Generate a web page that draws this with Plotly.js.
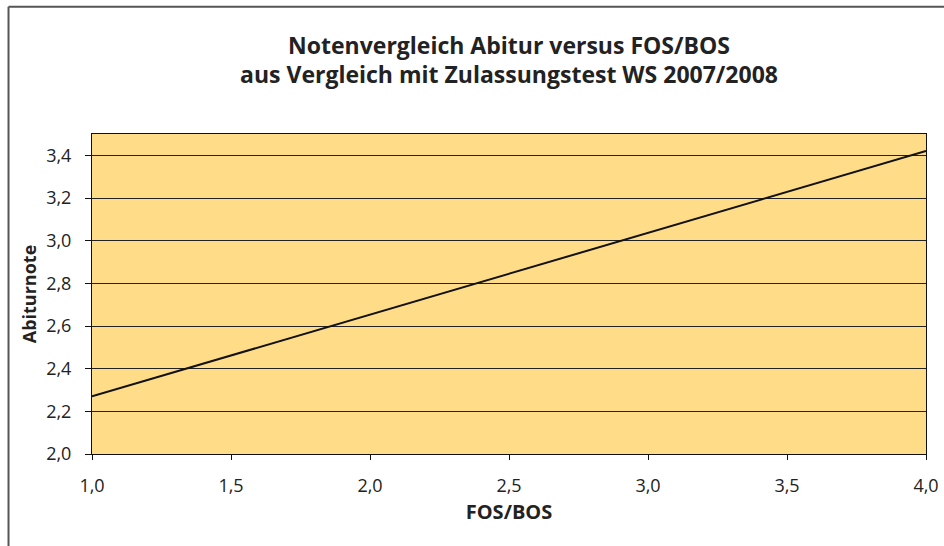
<!DOCTYPE html>
<html>
<head>
<meta charset="utf-8">
<script src="https://cdn.plot.ly/plotly-3.0.1.min.js"></script>
<style>html,body{margin:0;padding:0;background:#fff;}#chart{width:944px;height:546px;}</style>
</head>
<body>
<div id="chart"></div>
<script>
const fosBos = [1.0, 4.0];
const abiturnote = [2.27, 3.42];
const xTicks = [1.0, 1.5, 2.0, 2.5, 3.0, 3.5, 4.0];
const yTicks = [2.0, 2.2, 2.4, 2.6, 2.8, 3.0, 3.2, 3.4];

const FONT = '"Open Sans", "Noto Sans", sans-serif';

const trace = {
  x: fosBos,
  y: abiturnote,
  type: 'scatter',
  mode: 'lines',
  line: {color: '#111111', width: 2},
  hoverinfo: 'x+y'
};

const layout = {
  width: 944,
  height: 546,
  separators: ',.',
  paper_bgcolor: '#ffffff',
  plot_bgcolor: '#FFDC87',
  margin: {l: 92, r: 18, t: 134, b: 92},
  showlegend: false,
  font: {family: FONT, color: '#222222', size: 17},
  title: {
    text: '<b>Notenvergleich Abitur versus FOS/BOS<br>aus Vergleich mit Zulassungstest WS 2007/2008</b>',
    font: {family: FONT, size: 23, color: '#222222'},
    x: 0.5, xref: 'paper', xanchor: 'center',
    y: 0.902, yref: 'container', yanchor: 'top'
  },
  xaxis: {
    range: [1.0, 4.0],
    tickvals: xTicks,
    tickformat: '.1f',
    showgrid: false,
    zeroline: false,
    showline: true,
    linecolor: '#111111',
    linewidth: 1,
    mirror: true,
    ticks: 'outside',
    ticklen: 5,
    tickcolor: '#111111',
    ticklabelstandoff: 10,
    tickfont: {family: FONT, size: 18, color: '#222222'},
    title: {text: '<b>FOS/BOS</b>', font: {family: FONT, size: 20, color: '#222222'}, standoff: 9}
  },
  yaxis: {
    range: [2.0, 3.5],
    tickvals: yTicks,
    tickformat: '.1f',
    showgrid: true,
    gridcolor: '#222222',
    gridwidth: 1,
    zeroline: false,
    showline: true,
    linecolor: '#111111',
    linewidth: 1,
    mirror: true,
    ticks: 'outside',
    ticklen: 6,
    tickcolor: '#111111',
    ticklabelstandoff: 10,
    tickfont: {family: FONT, size: 18, color: '#222222'},
    title: {text: '<b>Abiturnote</b>', font: {family: FONT, size: 18, color: '#222222'}, standoff: 4}
  },
  shapes: [
    {type: 'line', xref: 'paper', yref: 'paper', x0: -0.1001, x1: 1.03, y0: 1.398, y1: 1.398,
     line: {color: '#555555', width: 2}},
    {type: 'line', xref: 'paper', yref: 'paper', x0: -0.1001, x1: -0.1001, y0: 1.398, y1: -0.3,
     line: {color: '#555555', width: 2}}
  ]
};

Plotly.newPlot('chart', [trace], layout, {displayModeBar: false, staticPlot: true});
</script>
</body>
</html>
